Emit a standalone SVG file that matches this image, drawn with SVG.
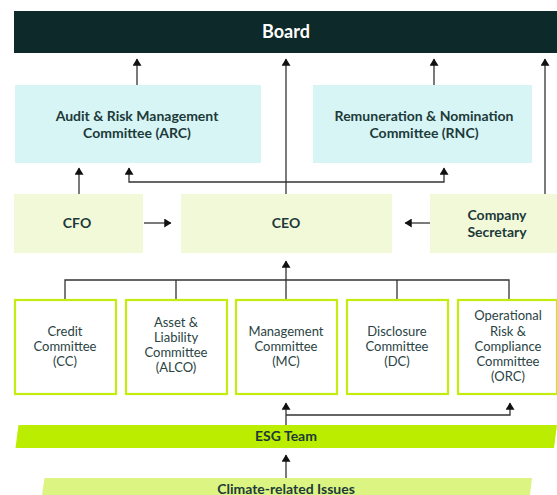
<svg xmlns="http://www.w3.org/2000/svg" width="557" height="495" viewBox="0 0 557 495">
  <defs>
    <marker id="arrow" viewBox="0 0 8 10" refX="7.5" refY="5" markerWidth="8" markerHeight="9" markerUnits="userSpaceOnUse" orient="auto">
      <path d="M0,0 L8,5 L0,10 Z" fill="#111"/>
    </marker>
    <style>
      .t { font-family: Lato, "Open Sans", "Liberation Sans", sans-serif; fill: #1d3a3a; text-anchor: middle; }
      .b { font-weight: bold; font-size: 14px; }
      .r { font-size: 13px; fill: #2a4343; }
      .conn { fill: none; stroke: #333; stroke-width: 1.3; }
      .arr { marker-end: url(#arrow); }
      .board { fill: #0d2929; }
      .cyan { fill: #d7f5f5; }
      .pale { fill: #f2f9d9; }
      .cbox { fill: #fff; stroke: #c3ec0f; stroke-width: 2.2; }
    </style>
  </defs>

  <!-- connectors -->
  <g id="connectors">
    <!-- ARC, CEO, RNC and Company Secretary up to the Board -->
    <path class="conn arr" d="M137,85 V59"/>
    <path class="conn arr" d="M286,194 V59"/>
    <path class="conn arr" d="M434,85 V59"/>
    <path class="conn arr" d="M545,194 V59"/>
    <!-- CFO up to ARC -->
    <path class="conn arr" d="M79,194 V168"/>
    <!-- CEO link up to ARC and RNC -->
    <path class="conn arr" d="M286,182 H129 V168"/>
    <path class="conn arr" d="M286,182 H444 V168"/>
    <!-- CFO and Company Secretary to CEO -->
    <path class="conn arr" d="M144,223 H171"/>
    <path class="conn arr" d="M431,223 H405"/>
    <!-- management committees bus up to CEO -->
    <path class="conn" d="M65,299 V280 H509 V299 M176,280 V299 M397,280 V299 M286,280 V299"/>
    <path class="conn arr" d="M286,280 V261"/>
    <!-- ESG Team up to MC and ORC -->
    <path class="conn arr" d="M286,425 V403"/>
    <path class="conn arr" d="M286,415 H510 V403"/>
    <!-- Climate-related issues up to ESG Team -->
    <path class="conn arr" d="M286,478 V455"/>
  </g>

  <g id="board">
    <rect class="board" x="14" y="11" width="543" height="42"/>
    <text class="t" x="286" y="38" font-size="18" font-weight="bold" style="fill:#fff">Board</text>
  </g>

  <g id="arc">
    <rect class="cyan" x="15" y="85" width="246" height="78"/>
    <text class="t b" x="137" y="121">Audit &amp; Risk Management</text>
    <text class="t b" x="137" y="138">Committee (ARC)</text>
  </g>

  <g id="rnc">
    <rect class="cyan" x="313" y="85" width="219" height="78"/>
    <text class="t b" x="424" y="121">Remuneration &amp; Nomination</text>
    <text class="t b" x="424" y="138">Committee (RNC)</text>
  </g>

  <g id="cfo">
    <rect class="pale" x="14" y="194" width="129" height="59"/>
    <text class="t b" x="77" y="228">CFO</text>
  </g>

  <g id="ceo">
    <rect class="pale" x="181" y="194" width="211" height="59"/>
    <text class="t b" x="286" y="228">CEO</text>
  </g>

  <g id="company-secretary">
    <rect class="pale" x="430" y="194" width="127" height="59"/>
    <text class="t b" x="497" y="220">Company</text>
    <text class="t b" x="497" y="237">Secretary</text>
  </g>

  <g id="cc">
    <rect class="cbox" x="15" y="300" width="101" height="94"/>
    <text class="t r" x="65" y="336">Credit</text>
    <text class="t r" x="65" y="351">Committee</text>
    <text class="t r" x="65" y="366">(CC)</text>
  </g>

  <g id="alco">
    <rect class="cbox" x="126" y="300" width="101" height="94"/>
    <text class="t r" x="176" y="327">Asset &amp;</text>
    <text class="t r" x="176" y="342">Liability</text>
    <text class="t r" x="176" y="357">Committee</text>
    <text class="t r" x="176" y="372">(ALCO)</text>
  </g>

  <g id="mc">
    <rect class="cbox" x="236" y="300" width="101" height="94"/>
    <text class="t r" x="286" y="336">Management</text>
    <text class="t r" x="286" y="351">Committee</text>
    <text class="t r" x="286" y="366">(MC)</text>
  </g>

  <g id="dc">
    <rect class="cbox" x="347" y="300" width="101" height="94"/>
    <text class="t r" x="397" y="336">Disclosure</text>
    <text class="t r" x="397" y="351">Committee</text>
    <text class="t r" x="397" y="366">(DC)</text>
  </g>

  <g id="orc">
    <rect class="cbox" x="458" y="300" width="99" height="94"/>
    <text class="t r" x="508" y="320">Operational</text>
    <text class="t r" x="508" y="336">Risk &amp;</text>
    <text class="t r" x="508" y="351">Compliance</text>
    <text class="t r" x="508" y="366">Committee</text>
    <text class="t r" x="508" y="381">(ORC)</text>
  </g>

  <g id="esg-team">
    <polygon points="18.5,425 557,425 554,448 15.5,448" fill="#bbed00"/>
    <text class="t" x="286" y="441" font-size="14" font-weight="bold">ESG Team</text>
  </g>

  <g id="climate-issues">
    <polygon points="44.5,478 532,478 530,495 42,495" fill="#dcf582"/>
    <text class="t" x="286" y="494" font-size="14" font-weight="bold">Climate-related Issues</text>
  </g>
</svg>
